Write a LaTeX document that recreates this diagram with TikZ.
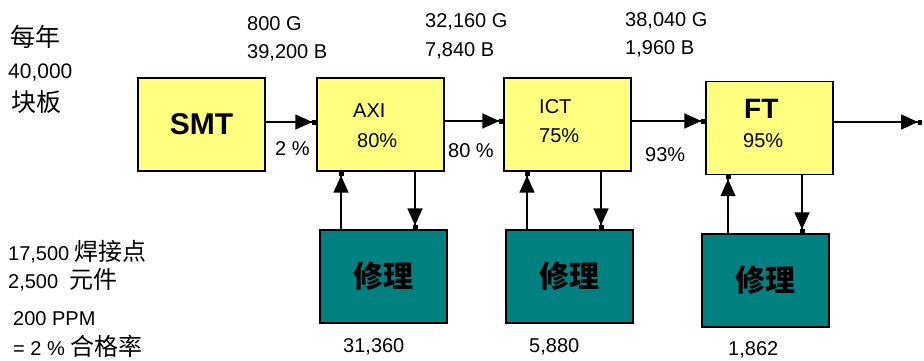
\documentclass[tikz,border=0pt]{standalone}
\usepackage{fontspec}
\setmainfont{Liberation Sans}
\newfontfamily\cjk{Noto Sans CJK SC}
\usetikzlibrary{arrows.meta}
\definecolor{boxyellow}{HTML}{FFFF80}
\definecolor{repairteal}{HTML}{008080}
\tikzset{
  stage/.style={draw=black, line width=1.3pt, fill=boxyellow, minimum width=127pt, minimum height=93pt, inner sep=0pt},
  repair/.style={draw=black, line width=1.3pt, fill=repairteal, minimum width=127pt, minimum height=93pt, inner sep=0pt,
    font=\cjk\bfseries\fontsize{30}{30}\selectfont},
  arr/.style={line width=1.4pt,
    -{Triangle[length=17pt,width=15pt,sep=0pt]Rectangle[length=4pt,width=5pt]}},
  txt/.style={anchor=base west, inner sep=0pt, font=\fontsize{20}{22}\selectfont},
  cjktxt/.style={anchor=base west, inner sep=0pt, font=\cjk\fontsize{25}{27}\selectfont},
}
\begin{document}
\begin{tikzpicture}[x=1pt,y=-1pt]
\useasboundingbox (0,0) rectangle (924,360);

% process stages
\node[stage] (smt) at (201.5,124.5) {};
\node[stage] (axi) at (380.5,124.5) {};
\node[stage] (ict) at (567.5,124.5) {};
\node[stage] (ft)  at (769.5,128) {};

% repair stations
\node[repair] (r1) at (383.5,276.5) {修理};
\node[repair] (r2) at (569.5,276.5) {修理};
\node[repair] (r3) at (765.5,280.5) {修理};

% labels inside the stages
\node[anchor=center, inner sep=0pt, font=\bfseries\fontsize{30}{30}\selectfont] (smtl) at (smt.center) {SMT};
\node[txt] (axil) at (353,117) {AXI};
\node[txt] (axip) at (357,147) {80\%};
\node[txt] (ictl) at (539,113) {ICT};
\node[txt] (ictp) at (539,142) {75\%};
\node[txt, font=\bfseries\fontsize{28}{30}\selectfont] (ftl) at (744,118) {FT};
\node[txt] (ftp) at (743,147) {95\%};

% flow between stages
\coordinate (out) at (922,122);
\draw[arr] ([yshift=2.5pt]smt.east) -- ([yshift=2.5pt]smt.east -| axi.west);
\draw[arr] ([yshift=3.5pt]axi.east) -- ([yshift=3.5pt]axi.east -| ict.west);
\draw[arr] ([yshift=3.5pt]ict.east) -- ([yshift=3.5pt]ict.east -| ft.west);
\draw[arr] (ft.east |- out) -- (out);

% loops to and from repair
\draw[arr] ([xshift=-42.5pt]r1.north) -- ([xshift=-42.5pt]r1.north |- axi.south);
\draw[arr] ([xshift=31.5pt]r1.north |- axi.south) -- ([xshift=31.5pt]r1.north);
\draw[arr] ([xshift=-42.5pt]r2.north) -- ([xshift=-42.5pt]r2.north |- ict.south);
\draw[arr] ([xshift=31.5pt]r2.north |- ict.south) -- ([xshift=31.5pt]r2.north);
\draw[arr] ([xshift=-37.5pt]r3.north) -- ([xshift=-37.5pt]r3.north |- ft.south);
\draw[arr] ([xshift=36.5pt]r3.north |- ft.south) -- ([xshift=36.5pt]r3.north);

% yields on the links
\node[txt] (y1) at (275,155) {2 \%};
\node[txt] (y2) at (448,157) {80 \%};
\node[txt] (y3) at (645,161) {93\%};

% good / bad counts
\node[txt] (g1) at (247,30) {800 G};
\node[txt] (b1) at (247,58) {39,200 B};
\node[txt] (g2) at (425,27) {32,160 G};
\node[txt] (b2) at (425,56) {7,840 B};
\node[txt] (g3) at (625,26) {38,040 G};
\node[txt] (b3) at (625,54) {1,960 B};

% repair counts
\node[txt] (n1) at (343,352) {31,360};
\node[txt] (n2) at (529,352) {5,880};
\node[txt] (n3) at (728,355) {1,862};

% annual volume
\node[cjktxt] (yr) at (10,46) {每年};
\node[txt, font=\fontsize{21}{22}\selectfont] (vol) at (8,78) {40,000};
\node[cjktxt] (brd) at (11,111) {块板};

% board data
\node[txt] (sj) at (8,260) {17,500 {\cjk\fontsize{24}{26}\selectfont 焊接点}};
\node[txt] (cp) at (8,288) {2,500\ \ {\cjk\fontsize{24}{26}\selectfont 元件}};
\node[txt] (ppm) at (13,325) {200 PPM};
\node[txt] (yl) at (13,355) {= 2 \% {\cjk\fontsize{24}{26}\selectfont 合格率}};
\end{tikzpicture}
\end{document}
